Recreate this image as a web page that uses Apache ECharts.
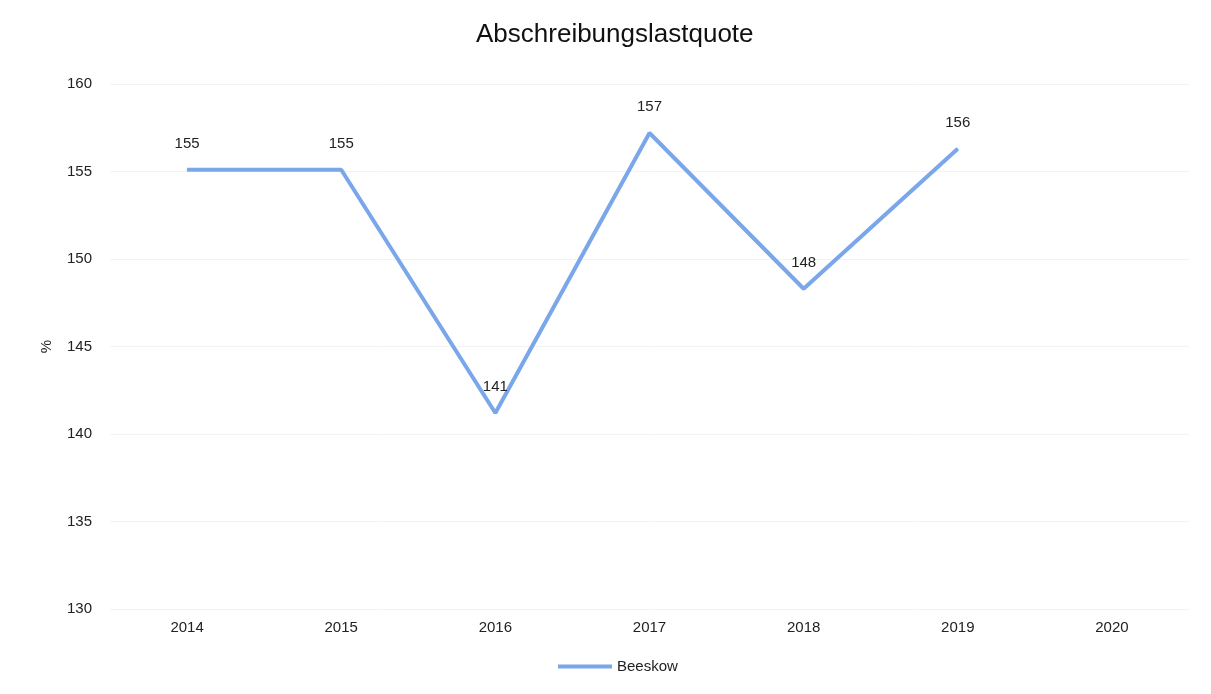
<!DOCTYPE html>
<html><head><meta charset="utf-8">
<script src="https://cdn.jsdelivr.net/npm/echarts@6/dist/echarts.min.js"></script>
<style>html,body{margin:0;padding:0;background:#fff}#c{width:1211px;height:694px}</style>
</head><body><div id="c"></div>
<script>
const categories = ['2014','2015','2016','2017','2018','2019','2020'];
const beeskow = [155.1, 155.1, 141.2, 157.2, 148.3, 156.3, null];
const labels = ['155','155','141','157','148','156',''];
const seriesName = 'Beeskow';

const chart = echarts.init(document.getElementById('c'));
chart.setOption({
  backgroundColor: '#fff',
  title: { text: 'Abschreibungslastquote', left: 471, top: 17,
    textStyle: { fontFamily: 'Liberation Sans', fontSize: 26, fontWeight: 'normal', color: '#111' } },
  legend: { bottom: 15, left: 553, itemWidth: 54, itemHeight: 4, itemGap: 10,
    textStyle: { fontFamily: 'Liberation Sans', fontSize: 15, color: '#222' },
    data: [{ name: seriesName, icon: 'path://M0,0 L54,0 L54,4 L0,4 Z' }] },
  grid: { left: 110, right: 22, top: 84, bottom: 85 },
  xAxis: { type: 'category', data: categories, boundaryGap: true,
    axisLine: { show: false }, axisTick: { show: false },
    axisLabel: { fontFamily: 'Liberation Sans', fontSize: 15, color: '#222', margin: 11 } },
  yAxis: { type: 'value', min: 130, max: 160, interval: 5, name: '%', nameLocation: 'middle', nameGap: 56,
    nameTextStyle: { fontFamily: 'Liberation Sans', fontSize: 15, color: '#222' },
    axisLine: { show: false }, axisTick: { show: false },
    axisLabel: { fontFamily: 'Liberation Sans', fontSize: 15, color: '#222', margin: 18 },
    splitLine: { lineStyle: { color: '#f3f3f3', width: 1 } } },
  series: [{ name: seriesName, type: 'line', data: beeskow, showSymbol: true, symbol: 'circle', symbolSize: 1,
    lineStyle: { color: '#7aa6ea', width: 4 }, itemStyle: { color: '#7aa6ea' },
    label: { show: true, position: 'top', distance: 18, fontFamily: 'Liberation Sans', fontSize: 15, color: '#222',
      formatter: p => labels[p.dataIndex] } }]
});
</script></body></html>
